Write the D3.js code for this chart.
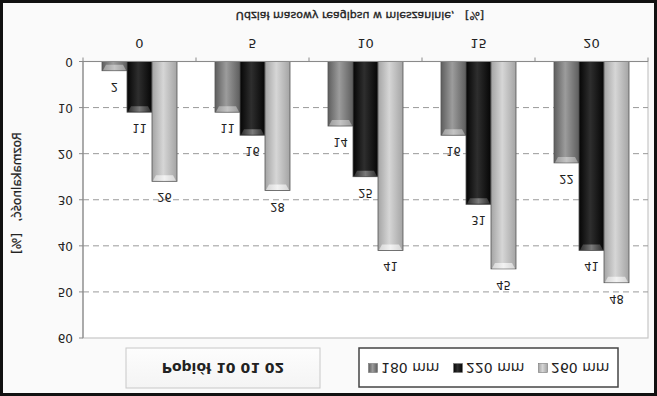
<!DOCTYPE html>
<html lang="pl">
<head>
  <meta charset="UTF-8">
  <title>Rozmakalność – Popiół 10 01 02</title>
  <script src="https://d3js.org/d3.v7.min.js"></script>
  <style>
    body { margin: 0; background: #fff; }
    svg text { font-family: "DejaVu Sans", Verdana, sans-serif; fill: #222; }
  </style>
</head>
<body>
<div id="chart"></div>
<script>
  // data
  var categories = ["0", "5", "10", "15", "20"];
  var seriesNames = ["180 mm", "220 mm", "260 mm"];
  var values180 = [2, 11, 14, 16, 22];
  var values220 = [11, 16, 25, 31, 41];
  var values260 = [26, 28, 41, 45, 48];
  var yTicks = [0, 10, 20, 30, 40, 50, 60];
  var seriesValues = [values180, values220, values260];

  var width = 657, height = 396;

  // colours for each series: edge, middle, cap
  var shades = [
    { edge: "#5e5e5e", mid: "#9c9c9c", cap: "#c4c4c4" },
    { edge: "#050505", mid: "#2e2e2e", cap: "#7a7a7a" },
    { edge: "#a4a4a4", mid: "#d6d6d6", cap: "#f2f2f2" }
  ];

  var svg = d3.select("#chart").append("svg")
    .attr("width", width)
    .attr("height", height);

  var defs = svg.append("defs");
  shades.forEach(function (s, i) {
    var g = defs.append("linearGradient").attr("id", "bar" + i)
      .attr("x1", "0").attr("x2", "1").attr("y1", "0").attr("y2", "0");
    g.append("stop").attr("offset", "0%").attr("stop-color", s.edge);
    g.append("stop").attr("offset", "45%").attr("stop-color", s.mid);
    g.append("stop").attr("offset", "100%").attr("stop-color", s.edge);
    var c = defs.append("linearGradient").attr("id", "cap" + i)
      .attr("x1", "0").attr("x2", "1").attr("y1", "0").attr("y2", "0");
    c.append("stop").attr("offset", "0%").attr("stop-color", s.mid);
    c.append("stop").attr("offset", "50%").attr("stop-color", s.cap);
    c.append("stop").attr("offset", "100%").attr("stop-color", s.mid);
  });
  var boxGrad = defs.append("linearGradient").attr("id", "boxg")
    .attr("x1", "0").attr("x2", "0").attr("y1", "0").attr("y2", "1");
  boxGrad.append("stop").attr("offset", "0%").attr("stop-color", "#f4f4f4");
  boxGrad.append("stop").attr("offset", "100%").attr("stop-color", "#fdfdfd");

  // the whole picture is mirrored top to bottom
  var root = svg.append("g")
    .attr("transform", "translate(0," + height + ") scale(1,-1)");

  root.append("rect")
    .attr("x", 0).attr("y", 0).attr("width", width).attr("height", height)
    .attr("fill", "#fafafa");

  var x = d3.scaleBand().domain(categories).range([83, 648]);
  var xs = d3.scaleBand().domain(seriesNames).range([19, 94]);
  var y = d3.scaleLinear().domain([0, 60]).range([334.5, 58]);

  // plot area
  root.append("rect")
    .attr("x", 83).attr("y", y(60))
    .attr("width", 648 - 83).attr("height", y(0) - y(60))
    .attr("fill", "#fff")
    .attr("stroke", "#c6c6c6").attr("stroke-width", 1.2);

  // grid
  root.append("g").selectAll("line")
    .data(yTicks.filter(function (t) { return t > 0 && t < 60; }))
    .enter().append("line")
    .attr("x1", 83).attr("x2", 648)
    .attr("y1", function (d) { return y(d); })
    .attr("y2", function (d) { return y(d); })
    .attr("stroke", "#9a9a9a").attr("stroke-width", 1)
    .attr("stroke-dasharray", "6,4");

  // bars
  var groups = root.append("g").selectAll("g")
    .data(categories)
    .enter().append("g")
    .attr("transform", function (d) { return "translate(" + x(d) + ",0)"; });

  groups.each(function (cat, ci) {
    var g = d3.select(this);
    seriesNames.forEach(function (s, si) {
      var v = seriesValues[si][ci];
      var bx = xs(s), bw = xs.bandwidth();
      g.append("rect")
        .attr("x", bx).attr("y", y(v))
        .attr("width", bw).attr("height", y(0) - y(v))
        .attr("fill", "url(#bar" + si + ")")
        .attr("stroke", "#555").attr("stroke-width", 0.8);
      g.append("path")
        .attr("d", "M" + (bx + 1) + "," + (y(v) + 0.5) +
          "L" + (bx + bw - 1) + "," + (y(v) + 0.5) +
          "L" + (bx + bw - 4) + "," + (y(v) + 6) +
          "L" + (bx + 4) + "," + (y(v) + 6) + "Z")
        .attr("fill", "url(#cap" + si + ")");
      g.append("text")
        .attr("x", bx + bw / 2).attr("y", y(v) - 16)
        .attr("text-anchor", "middle")
        .attr("dominant-baseline", "central")
        .attr("font-size", 11.5)
        .text(v);
    });
  });

  // y axis
  root.append("line")
    .attr("x1", 83).attr("x2", 83).attr("y1", y(0)).attr("y2", y(60))
    .attr("stroke", "#8a8a8a").attr("stroke-width", 1.2);
  var yt = root.append("g").selectAll("g").data(yTicks).enter().append("g");
  yt.append("line")
    .attr("x1", 79).attr("x2", 83)
    .attr("y1", function (d) { return y(d); })
    .attr("y2", function (d) { return y(d); })
    .attr("stroke", "#8a8a8a");
  yt.append("text")
    .attr("x", 73).attr("y", function (d) { return y(d); })
    .attr("text-anchor", "end").attr("dominant-baseline", "central")
    .attr("font-size", 12)
    .text(function (d) { return d; });

  // x axis
  root.append("line")
    .attr("x1", 83).attr("x2", 648).attr("y1", y(0)).attr("y2", y(0))
    .attr("stroke", "#8a8a8a").attr("stroke-width", 1.2);
  var bounds = categories.map(function (c) { return x(c); }).concat([648]);
  root.append("g").selectAll("line").data(bounds).enter().append("line")
    .attr("x1", function (d) { return d; }).attr("x2", function (d) { return d; })
    .attr("y1", y(0)).attr("y2", y(0) + 4)
    .attr("stroke", "#8a8a8a");
  root.append("g").selectAll("text").data(categories).enter().append("text")
    .attr("x", function (d) { return x(d) + x.bandwidth() / 2; })
    .attr("y", 353)
    .attr("text-anchor", "middle").attr("dominant-baseline", "central")
    .attr("font-size", 13)
    .text(function (d) { return d; });

  // axis titles
  root.append("text")
    .attr("x", 360).attr("y", 381)
    .attr("text-anchor", "middle").attr("dominant-baseline", "central")
    .attr("font-size", 11)
    .attr("stroke", "#222").attr("stroke-width", 0.35)
    .attr("xml:space", "preserve")
    .text("Udział masowy reagipsu w mieszaninie,   [%]");
  root.append("text")
    .attr("transform", "translate(17,203) rotate(-90)")
    .attr("text-anchor", "middle").attr("dominant-baseline", "central")
    .attr("font-size", 12)
    .attr("stroke", "#222").attr("stroke-width", 0.25)
    .attr("xml:space", "preserve")
    .text("Rozmakalność,   [%]");

  // title box
  root.append("rect")
    .attr("x", 126).attr("y", 8).attr("width", 194).attr("height", 40)
    .attr("fill", "url(#boxg)").attr("stroke", "#c8c8c8");
  root.append("text")
    .attr("x", 223).attr("y", 28)
    .attr("text-anchor", "middle").attr("dominant-baseline", "central")
    .attr("font-size", 14).attr("font-weight", "bold")
    .text("Popiół 10 01 02");

  // legend
  root.append("rect")
    .attr("x", 359).attr("y", 9).attr("width", 259).attr("height", 39)
    .attr("fill", "#fff").attr("stroke", "#444").attr("stroke-width", 1.5);
  var lx = d3.scalePoint().domain(seriesNames).range([373, 543]);
  var li = root.append("g").selectAll("g").data(seriesNames).enter().append("g")
    .attr("transform", function (d) { return "translate(" + lx(d) + ",28)"; });
  li.append("rect")
    .attr("x", -4.5).attr("y", -4.5).attr("width", 9).attr("height", 9)
    .attr("fill", function (d, i) { return "url(#bar" + i + ")"; })
    .attr("stroke", "#777").attr("stroke-width", 0.6);
  li.append("text")
    .attr("x", 8).attr("y", 0)
    .attr("dominant-baseline", "central")
    .attr("font-size", 14)
    .text(function (d) { return d; });

  // outer frame
  svg.append("rect")
    .attr("x", 1.5).attr("y", 1.5).attr("width", width - 3).attr("height", height - 3)
    .attr("fill", "none").attr("stroke", "#111").attr("stroke-width", 3);
</script>
</body>
</html>
